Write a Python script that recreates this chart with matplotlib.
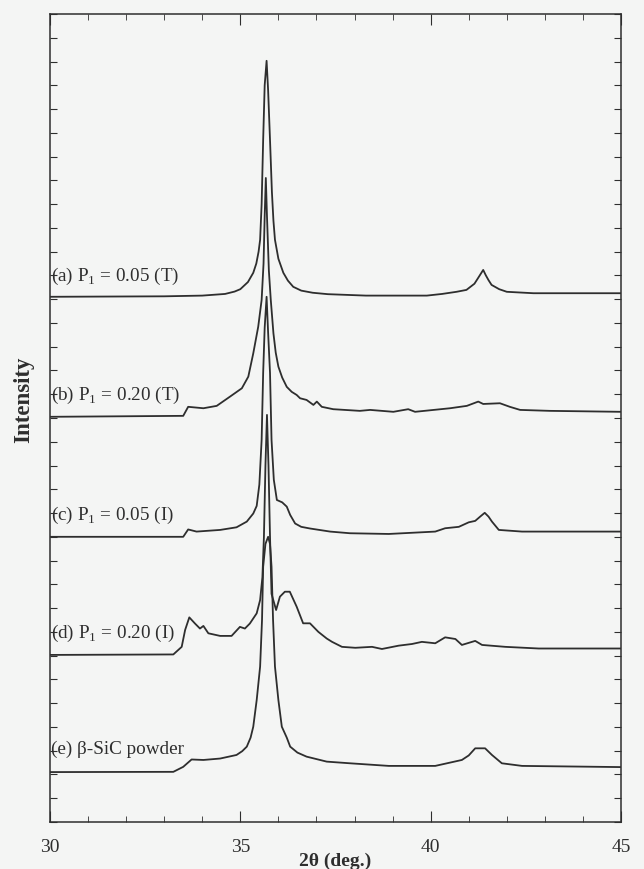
import matplotlib
matplotlib.use('Agg')
import matplotlib.pyplot as plt
from matplotlib.ticker import MultipleLocator, NullFormatter

plt.rcParams['font.family'] = ['Liberation Serif', 'DejaVu Serif']
plt.rcParams['mathtext.fontset'] = 'custom'
plt.rcParams['mathtext.rm'] = 'Liberation Serif'

# 2theta (deg.) and intensity (arbitrary units, curves already offset)
x_a = [30.0, 33.0, 34.0, 34.6, 34.85, 35.0, 35.2, 35.34, 35.42, 35.48, 35.52, 35.56,
       35.60, 35.64, 35.69, 35.73, 35.78, 35.83, 35.87, 35.91, 36.0, 36.13, 36.25, 36.39,
       36.6, 36.9, 37.3, 38.3, 39.9, 40.3, 40.68, 40.94, 41.15, 41.25, 41.38, 41.45, 41.52,
       41.6, 41.8, 42.0, 42.7, 45.0]
y_a = [22.10, 22.12, 22.15, 22.22, 22.32, 22.42, 22.72, 23.11, 23.5, 24.0, 24.5, 26.0,
       28.7, 31.0, 32.03, 30.8, 28.7, 26.5, 25.3, 24.5, 23.7, 23.11, 22.78, 22.52,
       22.36, 22.27, 22.21, 22.15, 22.15, 22.22, 22.31, 22.39, 22.65, 22.9, 23.23, 23.0, 22.8,
       22.6, 22.42, 22.31, 22.25, 22.25]

x_b = [30.0, 33.50, 33.63, 34.03, 34.38, 34.73, 35.04, 35.21, 35.34, 35.47, 35.56, 35.61,
       35.64, 35.67, 35.70, 35.75, 35.80, 35.87, 35.93, 36.00, 36.10, 36.22, 36.35, 36.48,
       36.57, 36.74, 36.92, 37.01, 37.14, 37.44, 38.14, 38.41, 39.02, 39.41, 39.59, 40.51,
       40.95, 41.25, 41.38, 41.82, 42.08, 42.35, 43.13, 45.0]
y_b = [17.05, 17.09, 17.47, 17.41, 17.51, 17.90, 18.25, 18.74, 19.72, 20.84, 21.97, 23.5,
       25.5, 27.10, 25.5, 23.2, 21.97, 20.56, 19.75, 19.16, 18.7, 18.31, 18.1, 17.97,
       17.83, 17.76, 17.55, 17.69, 17.47, 17.37, 17.30, 17.34, 17.26, 17.37, 17.26, 17.41,
       17.51, 17.69, 17.59, 17.62, 17.47, 17.34, 17.30, 17.26]

x_c = [30.0, 33.50, 33.63, 33.85, 34.47, 34.90, 35.17, 35.34, 35.43, 35.50, 35.56, 35.60,
       35.64, 35.69, 35.73, 35.78, 35.82, 35.88, 35.96, 36.10, 36.22, 36.31, 36.44, 36.6,
       36.83, 37.36, 37.88, 38.90, 40.12, 40.38, 40.74, 41.00, 41.17, 41.30, 41.42, 41.52,
       41.61, 41.79, 42.40, 45.0]
y_c = [12.00, 12.00, 12.31, 12.22, 12.29, 12.40, 12.64, 12.98, 13.3, 14.2, 16.08, 18.90,
       20.8, 22.10, 20.6, 18.90, 16.08, 14.4, 13.55, 13.45, 13.27, 12.92, 12.56, 12.42,
       12.35, 12.22, 12.15, 12.12, 12.22, 12.36, 12.42, 12.61, 12.67, 12.85, 13.01, 12.85,
       12.64, 12.29, 12.22, 12.22]

x_d = [30.0, 33.24, 33.46, 33.55, 33.66, 33.81, 33.94, 34.03, 34.16, 34.47, 34.77, 34.99,
       35.12, 35.25, 35.43, 35.52, 35.58, 35.62, 35.66, 35.70, 35.74, 35.78, 35.82, 35.94,
       36.04, 36.17, 36.30, 36.48, 36.65, 36.83, 37.05, 37.27, 37.41, 37.67, 38.02, 38.46,
       38.72, 39.16, 39.51, 39.77, 40.12, 40.38, 40.65, 40.82, 41.17, 41.35, 41.96, 42.84, 45.0]
y_d = [7.03, 7.05, 7.37, 8.08, 8.61, 8.35, 8.14, 8.25, 7.94, 7.83, 7.83, 8.21,
       8.14, 8.35, 8.78, 9.34, 10.3, 12.0, 15.0, 17.13, 15.0, 12.0, 9.6, 8.92,
       9.48, 9.69, 9.69, 9.06, 8.36, 8.36, 8.00, 7.72, 7.58, 7.37, 7.33, 7.37,
       7.28, 7.42, 7.49, 7.58, 7.52, 7.77, 7.70, 7.45, 7.62, 7.45, 7.37, 7.30, 7.30]

x_e = [30.0, 33.24, 33.50, 33.72, 34.03, 34.47, 34.90, 35.05, 35.17, 35.27, 35.34, 35.43,
       35.52, 35.57, 35.60, 35.66, 35.73, 35.78, 35.82, 35.86, 35.91, 36.00, 36.09, 36.22,
       36.31, 36.5, 36.74, 37.27, 37.88, 38.90, 40.12, 40.82, 41.0, 41.17, 41.43, 41.61,
       41.87, 42.40, 45.0]
y_e = [2.10, 2.11, 2.32, 2.63, 2.61, 2.67, 2.82, 2.98, 3.17, 3.55, 4.01, 5.13,
       6.54, 8.5, 10.74, 11.7, 12.0, 11.7, 10.74, 8.5, 6.54, 5.13, 4.01, 3.55,
       3.17, 2.92, 2.75, 2.54, 2.47, 2.36, 2.36, 2.61, 2.8, 3.10, 3.10, 2.82,
       2.47, 2.36, 2.31]

labels = ['(a) P$_1$ = 0.05 (T)', '(b) P$_1$ = 0.20 (T)', '(c) P$_1$ = 0.05 (I)',
          '(d) P$_1$ = 0.20 (I)', '(e) \u03b2-SiC powder']
label_y = [22.95, 17.95, 12.92, 7.95, 3.07]

curves = [(x_a, y_a), (x_b, y_b), (x_c, y_c), (x_d, y_d), (x_e, y_e)]

bg = '#f4f5f4'
ink = '#2e2e2e'
fig = plt.figure(figsize=(6.44, 8.69), dpi=100, facecolor=bg)
ax = fig.add_axes([0.0776, 0.0541, 0.8867, 0.9298], facecolor=bg)

for (xs, ys) in curves:
    ax.plot(xs, ys, color=ink, lw=1.3)

for text, ly in zip(labels, label_y):
    ax.text(30.04, ly, text, fontsize=13.8, va='center', ha='left', color=ink)

ax.set_xlim(30, 45)
ax.set_ylim(0, 34)
ax.xaxis.set_major_locator(MultipleLocator(5))
ax.xaxis.set_minor_locator(MultipleLocator(1))
ax.yaxis.set_major_locator(MultipleLocator(1))
ax.yaxis.set_major_formatter(NullFormatter())
ax.tick_params(which='both', direction='in', top=True, right=True, color=ink)
ax.tick_params(axis='x', which='major', length=8, pad=12, labelsize=14, labelcolor=ink)
ax.tick_params(axis='x', which='minor', length=4)
ax.tick_params(axis='y', which='major', length=5)
for s in ax.spines.values():
    s.set_color(ink)
    s.set_linewidth(1.1)

ax.set_xlabel('2\u03b8 (deg.)', fontsize=14, fontweight='bold', color=ink, labelpad=-2)
ax.set_ylabel('Intensity', fontsize=16.5, fontweight='bold', color=ink)
ax.yaxis.set_label_coords(-0.028, 0.522)

fig.savefig('out.png', dpi=100, facecolor=bg)
